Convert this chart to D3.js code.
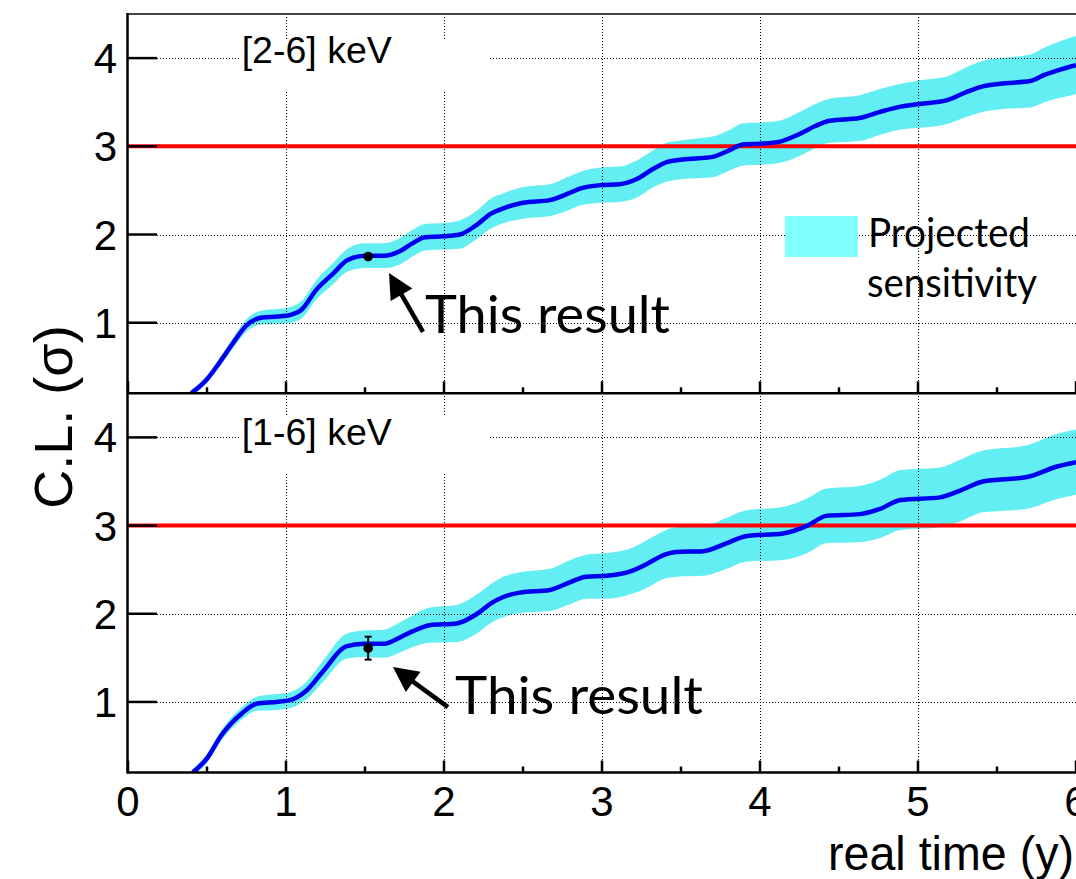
<!DOCTYPE html>
<html><head><meta charset="utf-8">
<script src="https://cdn.jsdelivr.net/npm/d3@7"></script>
<style>body{margin:0;background:#fff;} svg{display:block;}</style>
</head><body><svg id="c" width="1076" height="879"></svg>
<script>
// ---- data ----
const timesTop = [0.40,0.50,0.58,0.665,0.75,0.85,0.95,1.03,1.10,1.19,1.30,1.39,1.50,1.62,1.72,1.80,1.88,2.00,2.10,2.20,2.30,2.38,2.50,2.67,2.78,2.86,2.99,3.11,3.22,3.32,3.41,3.51,3.70,3.80,3.89,4.00,4.12,4.25,4.35,4.44,4.63,4.76,4.89,5.01,5.18,5.30,5.41,5.52,5.71,5.80,5.90,6.00];
const clTop = [0.20,0.36,0.55,0.77,0.97,1.06,1.07,1.09,1.15,1.37,1.56,1.71,1.76,1.76,1.81,1.90,1.97,1.98,2.00,2.10,2.24,2.30,2.36,2.39,2.46,2.52,2.56,2.57,2.63,2.74,2.82,2.85,2.88,2.95,3.02,3.03,3.05,3.14,3.23,3.29,3.32,3.39,3.45,3.48,3.52,3.61,3.68,3.71,3.74,3.81,3.87,3.92];
const bandHalfTop = [0.04,0.04,0.05,0.06,0.07,0.08,0.085,0.09,0.10,0.11,0.12,0.13,0.14,0.14,0.15,0.15,0.15,0.15,0.16,0.16,0.17,0.17,0.18,0.18,0.19,0.19,0.20,0.20,0.21,0.21,0.22,0.22,0.23,0.23,0.24,0.24,0.24,0.25,0.25,0.25,0.26,0.26,0.26,0.27,0.27,0.28,0.29,0.29,0.30,0.31,0.32,0.33];

const timesBottom = [0.41,0.50,0.59,0.72,0.815,0.94,1.025,1.13,1.24,1.38,1.49,1.62,1.72,1.80,1.91,2.08,2.21,2.30,2.375,2.48,2.67,2.80,2.90,3.03,3.18,3.30,3.37,3.47,3.64,3.79,3.91,4.145,4.30,4.42,4.63,4.76,4.89,5.14,5.27,5.41,5.69,5.88,6.00];
const clBottom = [0.20,0.36,0.62,0.87,0.98,1.00,1.02,1.13,1.36,1.63,1.66,1.66,1.73,1.80,1.87,1.89,2.00,2.12,2.19,2.24,2.27,2.36,2.42,2.43,2.48,2.58,2.65,2.70,2.71,2.80,2.88,2.91,3.00,3.11,3.13,3.19,3.29,3.32,3.40,3.50,3.55,3.67,3.72];
const bandHalfBottom = [0.04,0.05,0.06,0.07,0.08,0.09,0.09,0.10,0.12,0.14,0.15,0.16,0.17,0.18,0.20,0.21,0.22,0.22,0.23,0.23,0.24,0.25,0.25,0.26,0.26,0.27,0.27,0.28,0.28,0.29,0.29,0.30,0.31,0.31,0.32,0.33,0.34,0.34,0.35,0.35,0.36,0.37,0.37];

const panelLabels = ["[2-6] keV", "[1-6] keV"];
const resultTime = [1.52, 1.52];
const resultCL = [1.75, 1.61];
const resultErr = [0.02, 0.13];
const threshold = 3;
const xTickValues = [0,1,2,3,4,5,6];
const xMinorValues = [0.5,1.5,2.5,3.5,4.5,5.5];
const yTickValues = [1,2,3,4];
const xTitle = "real time (y)";
const yTitle = "C.L. (\u03C3)";
const legendLines = ["Projected", "sensitivity"];
const annotationText = "This result";
// arrow tip / tail in data units [time, CL]
const arrowTips = [[1.652,1.564],[1.677,1.395]];
const arrowTails = [[1.867,0.895],[2.025,0.941]];

// ---- layout ----
const svg = d3.select("#c");
const x = d3.scaleLinear().domain([0,6]).range([128,1076]);
const panels = [
  {times: timesTop, cl: clTop, half: bandHalfTop, y: d3.scaleLinear().domain([0.2,4.5]).range([393.3,14]),
   box:[240,40,250,50], labelY:63.3, textX:425, textY:332.7, textLen:245},
  {times: timesBottom, cl: clBottom, half: bandHalfBottom, y: d3.scaleLinear().domain([0.2,4.5]).range([772.5,393.3]),
   box:[240,416,250,58], labelY:445, textX:455, textY:713.5, textLen:248}
];

const defs = svg.append("defs");

panels.forEach((p,i) => {
  const y = p.y;
  const [y0, y1] = y.range();
  const cid = "clip"+i;
  defs.append("clipPath").attr("id",cid).append("rect")
    .attr("x",x(0)).attr("y",y1).attr("width",x(6)-x(0)).attr("height",y0-y1);
  const g = svg.append("g");
  const pg = g.append("g").attr("clip-path","url(#"+cid+")");
  const pts = p.times.map((t,k)=>({t, v:p.cl[k], h:p.half[k]}));

  // band
  pg.append("path").datum(pts)
    .attr("d", d3.area().x(d=>x(d.t)).y0(d=>y(d.v-d.h)).y1(d=>y(d.v+d.h)).curve(d3.curveMonotoneX))
    .attr("fill","#62eef3");

  // grid
  pg.selectAll(".vg").data(xTickValues.filter(v=>v>0)).join("line")
    .attr("x1",d=>Math.round(x(d))+0.5).attr("x2",d=>Math.round(x(d))+0.5).attr("y1",y1).attr("y2",y0)
    .attr("stroke","#000").attr("stroke-width",1).attr("stroke-dasharray","1,2").attr("shape-rendering","crispEdges");
  pg.selectAll(".hg").data(yTickValues).join("line")
    .attr("x1",157).attr("x2",x(6)).attr("y1",d=>Math.round(y(d))+0.5).attr("y2",d=>Math.round(y(d))+0.5)
    .attr("stroke","#000").attr("stroke-width",1).attr("stroke-dasharray","1,2").attr("shape-rendering","crispEdges");

  // label box
  pg.append("rect").attr("x",p.box[0]).attr("y",p.box[1]).attr("width",p.box[2]).attr("height",p.box[3]).attr("fill","#fff");
  g.append("text").attr("x",241.7).attr("y",p.labelY).text(panelLabels[i])
    .attr("font-family","'Liberation Sans', Arial, sans-serif").attr("font-size",37.5).attr("fill","#000");

  // threshold
  pg.append("line").attr("x1",x(0)).attr("x2",x(6)).attr("y1",y(threshold)).attr("y2",y(threshold))
    .attr("stroke","#ff0000").attr("stroke-width",4);

  // curve
  pg.append("path").datum(pts)
    .attr("d", d3.line().x(d=>x(d.t)).y(d=>y(d.v)).curve(d3.curveMonotoneX))
    .attr("fill","none").attr("stroke","#0000f0").attr("stroke-width",4.5).attr("stroke-linejoin","round");

  // result point
  const rx = x(resultTime[i]);
  g.append("line").attr("x1",rx).attr("x2",rx).attr("y1",y(resultCL[i]-resultErr[i])).attr("y2",y(resultCL[i]+resultErr[i]))
    .attr("stroke","#000").attr("stroke-width",2);
  if (resultErr[i] > 0.05) {
    [resultCL[i]-resultErr[i], resultCL[i]+resultErr[i]].forEach(v => {
      g.append("line").attr("x1",rx-3.5).attr("x2",rx+3.5).attr("y1",y(v)).attr("y2",y(v)).attr("stroke","#000").attr("stroke-width",2);
    });
  }
  g.append("circle").attr("cx",rx).attr("cy",y(resultCL[i])).attr("r",4.8).attr("fill","#000");

  // axes
  g.append("line").attr("x1",x(0)-1).attr("x2",x(6)).attr("y1",y0).attr("y2",y0).attr("stroke","#000").attr("stroke-width",2.5);
  g.selectAll(".xt").data(xTickValues).join("line")
    .attr("x1",d=>x(d)).attr("x2",d=>x(d)).attr("y1",y0).attr("y2",y0-12).attr("stroke","#000").attr("stroke-width",2.5);
  g.selectAll(".xm").data(xMinorValues).join("line")
    .attr("x1",d=>x(d)).attr("x2",d=>x(d)).attr("y1",y0).attr("y2",y0-6).attr("stroke","#000").attr("stroke-width",2.5);
  g.selectAll(".yt").data(yTickValues).join("line")
    .attr("x1",x(0)).attr("x2",x(0)+29).attr("y1",d=>y(d)).attr("y2",d=>y(d)).attr("stroke","#000").attr("stroke-width",2.5);
  g.selectAll(".yl").data(yTickValues).join("text")
    .attr("x",117).attr("y",d=>y(d)+15).attr("text-anchor","end").text(d=>d)
    .attr("font-family","'Liberation Sans', Arial, sans-serif").attr("font-size",42).attr("fill","#000");

  // annotation arrow
  const tip = [x(arrowTips[i][0]), y(arrowTips[i][1])];
  const tail = [x(arrowTails[i][0]), y(arrowTails[i][1])];
  const dx = tip[0]-tail[0], dy = tip[1]-tail[1], L = Math.hypot(dx,dy);
  const ux = dx/L, uy = dy/L, hl = 25, hw = 12.5;
  const bx = tip[0]-ux*hl, by = tip[1]-uy*hl;
  g.append("line").attr("x1",tail[0]).attr("y1",tail[1]).attr("x2",bx+ux*2).attr("y2",by+uy*2)
    .attr("stroke","#000").attr("stroke-width",4.5);
  g.append("path").attr("d", d3.line()([[tip[0],tip[1]],[bx-uy*hw,by+ux*hw],[bx+uy*hw,by-ux*hw]])+"Z").attr("fill","#000");
  g.append("text").attr("x",p.textX).attr("y",p.textY).text(annotationText)
    .attr("font-family","Lato, 'Open Sans', sans-serif").attr("font-size",52)
    .attr("textLength",p.textLen).attr("lengthAdjust","spacingAndGlyphs").attr("fill","#000");
});

// top frame & left axis
svg.append("line").attr("x1",127).attr("x2",1076).attr("y1",14).attr("y2",14).attr("stroke","#444").attr("stroke-width",2);
svg.append("line").attr("x1",127.5).attr("x2",127.5).attr("y1",13).attr("y2",773.5).attr("stroke","#000").attr("stroke-width",2.5);

// x tick labels (bottom)
svg.selectAll(".xl").data(xTickValues).join("text")
  .attr("x",d=>x(d)).attr("y",816).attr("text-anchor","middle").text(d=>d)
  .attr("font-family","'Liberation Sans', Arial, sans-serif").attr("font-size",42).attr("fill","#000");

// axis titles
svg.append("text").attr("x",828).attr("y",870).text(xTitle)
  .attr("font-family","'Liberation Sans', Arial, sans-serif").attr("font-size",48)
  .attr("textLength",246).attr("lengthAdjust","spacingAndGlyphs").attr("fill","#000");
svg.append("text").attr("transform","translate(72,417) rotate(-90)").attr("text-anchor","middle").text(yTitle)
  .attr("font-family","'Liberation Sans', Arial, sans-serif").attr("font-size",54).attr("fill","#000");

// legend
svg.append("rect").attr("x",785).attr("y",216).attr("width",73).attr("height",41).attr("fill","#80ffff");
svg.append("text").attr("x",868).attr("y",246.7).text(legendLines[0])
  .attr("font-family","Lato, 'Open Sans', sans-serif").attr("font-size",40)
  .attr("textLength",162).attr("lengthAdjust","spacingAndGlyphs").attr("fill","#000");
svg.append("text").attr("x",867).attr("y",296.5).text(legendLines[1])
  .attr("font-family","Lato, 'Open Sans', sans-serif").attr("font-size",40)
  .attr("textLength",170).attr("lengthAdjust","spacingAndGlyphs").attr("fill","#000");
</script></body></html>
